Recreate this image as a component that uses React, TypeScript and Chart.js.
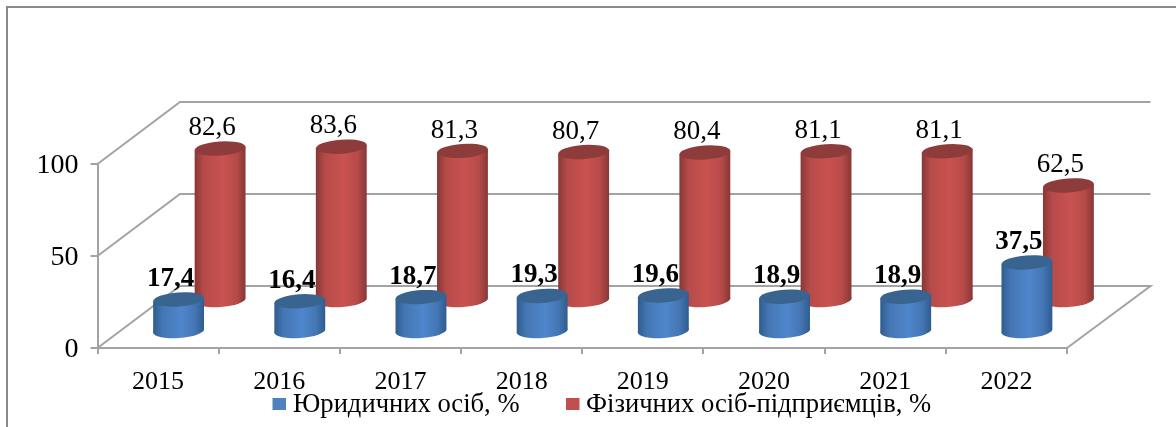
import React, { useEffect, useRef } from "react";
import { Chart, registerables } from "chart.js";

Chart.register(...registerables);

const categories = ["2015", "2016", "2017", "2018", "2019", "2020", "2021", "2022"];
const legalEntities = [17.4, 16.4, 18.7, 19.3, 19.6, 18.9, 18.9, 37.5];
const soleProprietors = [82.6, 83.6, 81.3, 80.7, 80.4, 81.1, 81.1, 62.5];
const yTicks = [0, 50, 100];

const SERIF = "'Liberation Serif', serif";
const GRAY = "#a3a3a3";
const WALL_DX = 82.5;
const WALL_DY = -62;

const looks = [
  { dx: 20.5, dy: -16, edge: "#2f5c8f", soft: "#4476b3", mid: "#4f86cc", top: "#3a6490", labelBold: true, labelDx: -8 },
  { dx: 62, dy: -47, edge: "#873736", soft: "#b64b49", mid: "#c9524f", top: "#8e3c3b", labelBold: false, labelDx: -8 },
];
const legendSpots = [
  { swatchX: 272.5, textX: 293 },
  { swatchX: 566, textX: 586 },
];

function cylinder(ctx: CanvasRenderingContext2D, x: number, yTop: number, yBase: number, rx: number, look: (typeof looks)[0]) {
  const ry = 7;
  const rot = -0.07;
  const ox = rx * Math.cos(rot);
  const oy = rx * Math.sin(rot);
  const g = ctx.createLinearGradient(x - rx, 0, x + rx, 0);
  g.addColorStop(0, look.edge);
  g.addColorStop(0.18, look.soft);
  g.addColorStop(0.55, look.mid);
  g.addColorStop(0.82, look.soft);
  g.addColorStop(1, look.edge);
  ctx.fillStyle = g;
  ctx.beginPath();
  ctx.ellipse(x, yBase, rx, ry, rot, 0, Math.PI * 2);
  ctx.fill();
  ctx.beginPath();
  ctx.moveTo(x - ox, yTop - oy);
  ctx.lineTo(x + ox, yTop + oy);
  ctx.lineTo(x + ox, yBase + oy);
  ctx.lineTo(x - ox, yBase - oy);
  ctx.closePath();
  ctx.fill();
  ctx.fillStyle = look.top;
  ctx.beginPath();
  ctx.ellipse(x, yTop, rx, ry, rot, 0, Math.PI * 2);
  ctx.fill();
}

const scene3d = {
  id: "scene3d",
  beforeDraw(chart: any) {
    const ctx = chart.ctx;
    ctx.save();
    ctx.strokeStyle = "#8a8a8a";
    ctx.lineWidth = 2;
    ctx.beginPath();
    ctx.moveTo(7, 427);
    ctx.lineTo(7, 7);
    ctx.lineTo(1176, 7);
    ctx.stroke();
    ctx.restore();
  },
  beforeDatasetsDraw(chart: any) {
    const ctx = chart.ctx;
    const { left, right } = chart.chartArea;
    const yScale = chart.scales.y;
    ctx.save();
    ctx.strokeStyle = GRAY;
    ctx.lineWidth = 2;
    yTicks.forEach((t) => {
      const y = yScale.getPixelForValue(t);
      ctx.beginPath();
      ctx.moveTo(left, y);
      ctx.lineTo(left + WALL_DX, y + WALL_DY);
      ctx.lineTo(right + WALL_DX + 1, y + WALL_DY);
      if (t === 0) ctx.lineTo(right, y);
      ctx.stroke();
    });
    [1, 0].forEach((i) => {
      const meta = chart.getDatasetMeta(i);
      meta.data.forEach((el: any) => {
        cylinder(ctx, el.x + looks[i].dx, el.y + looks[i].dy - 0.5, el.base + looks[i].dy, el.width / 2, looks[i]);
      });
    });
    ctx.fillStyle = "#000";
    ctx.textAlign = "center";
    ctx.textBaseline = "middle";
    [1, 0].forEach((i) => {
      const meta = chart.getDatasetMeta(i);
      ctx.font = `${looks[i].labelBold ? "bold " : ""}27px ${SERIF}`;
      meta.data.forEach((el: any, k: number) => {
        const v = chart.data.datasets[i].data[k] as number;
        ctx.fillText(v.toFixed(1).replace(".", ","), el.x + looks[i].dx + looks[i].labelDx, el.y + looks[i].dy - 21);
      });
    });
    ctx.textAlign = "left";
    ctx.font = `26.6px ${SERIF}`;
    chart.data.datasets.forEach((ds: any, i: number) => {
      ctx.fillStyle = ds.backgroundColor;
      ctx.fillRect(legendSpots[i].swatchX, 398, 13.5, 12);
      ctx.fillStyle = "#000";
      ctx.fillText(ds.label, legendSpots[i].textX, 405);
    });
    ctx.restore();
    return false;
  },
};

export default function App() {
  const ref = useRef<HTMLCanvasElement>(null);
  useEffect(() => {
    const chart = new Chart(ref.current as HTMLCanvasElement, {
      type: "bar",
      data: {
        labels: categories,
        datasets: [
          { label: "Юридичних осіб, %", data: legalEntities, backgroundColor: "#4f81bd", barThickness: 51, grouped: false } as any,
          { label: "Фізичних осіб-підприємців, %", data: soleProprietors, backgroundColor: "#c0504d", barThickness: 51, grouped: false } as any,
        ],
      },
      plugins: [scene3d as any],
      options: {
        responsive: false,
        animation: false,
        devicePixelRatio: 1,
        layout: { padding: { left: 0, right: 109, top: 164, bottom: 0 } },
        plugins: {
          tooltip: { enabled: false },
          title: { display: false },
          legend: { display: false },
        },
        scales: {
          x: {
            afterFit: (s: any) => { s.height = 79; },
            grid: { drawOnChartArea: false, drawTicks: true, tickLength: 6, color: GRAY, lineWidth: 2 },
            border: { color: GRAY, width: 2 },
            ticks: { color: "#000", padding: 13, maxRotation: 0, font: { family: SERIF, size: 26 } },
          },
          y: {
            min: 0,
            max: 100,
            afterFit: (s: any) => { s.width = 97.5; },
            afterBuildTicks: (s: any) => { s.ticks = yTicks.map((value) => ({ value })); },
            grid: { drawOnChartArea: false, drawTicks: true, tickLength: 7, color: GRAY, lineWidth: 2 },
            border: { color: GRAY, width: 2 },
            ticks: { color: "#000", padding: 12, labelOffset: 2, font: { family: SERIF, size: 28 } },
          },
        },
      },
    } as any);
    return () => chart.destroy();
  }, []);
  return (
    <canvas
      ref={ref}
      width={1176}
      height={427}
      style={{ position: "absolute", left: 0, top: 0, display: "block", filter: "blur(0.4px)" }}
    />
  );
}
